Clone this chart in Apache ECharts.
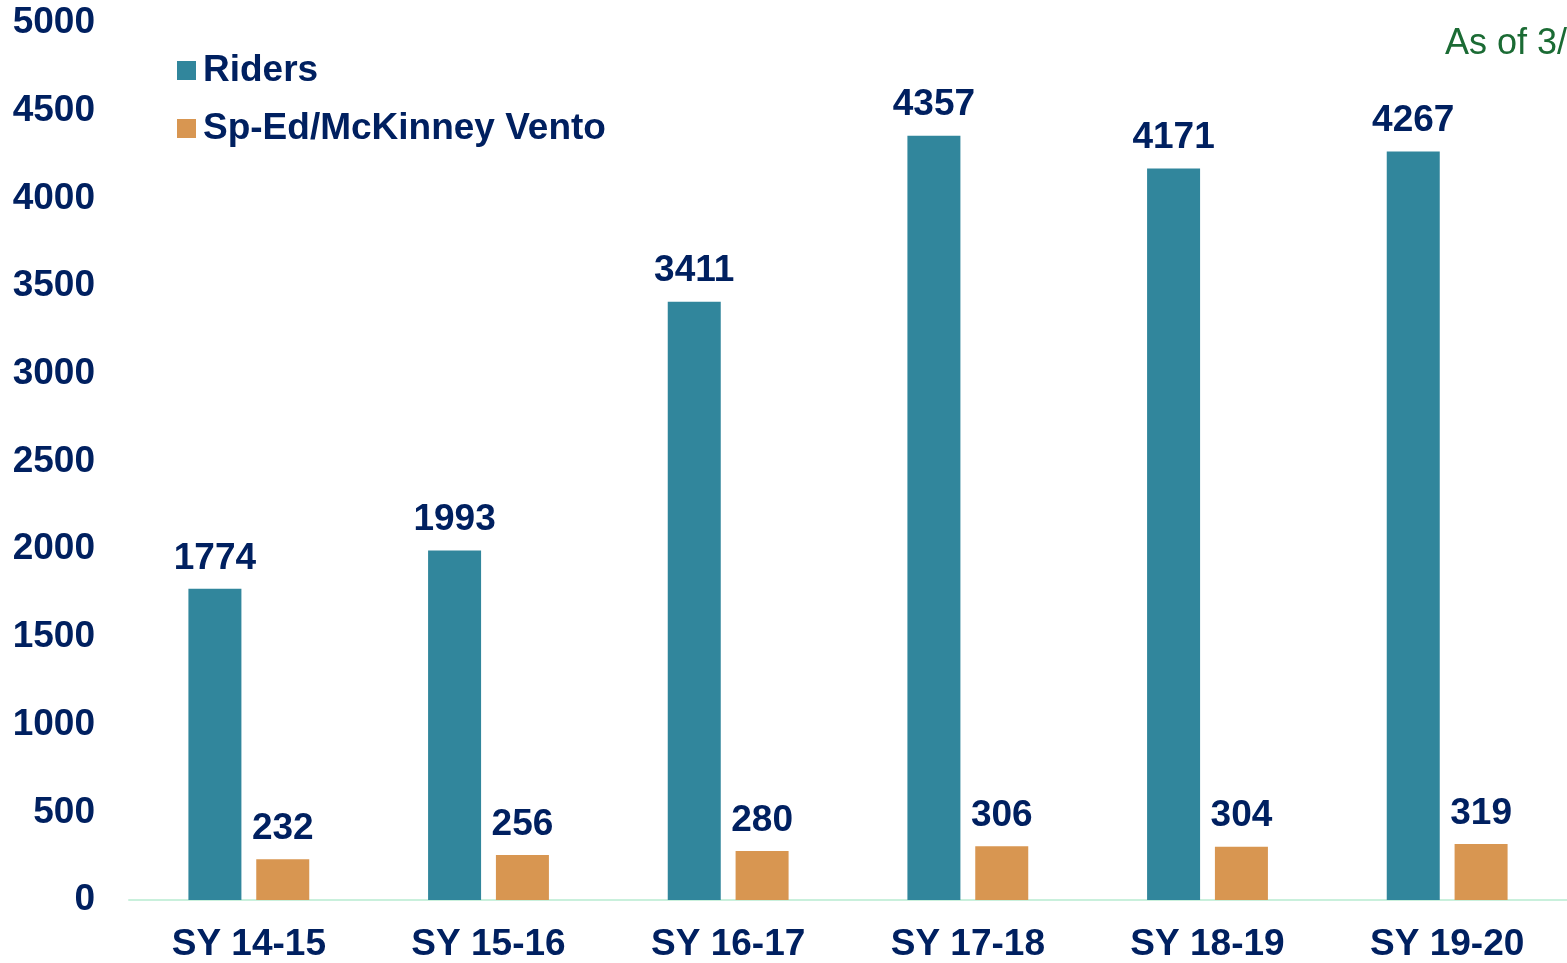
<!DOCTYPE html>
<html>
<head>
<meta charset="utf-8">
<script src="https://cdn.jsdelivr.net/npm/echarts@6/dist/echarts.min.js"></script>
<style>
  html, body { margin: 0; padding: 0; background: #fff; }
  #container { width: 1567px; height: 963px; }
</style>
</head>
<body>
<div id="container"></div>
<script>
var categories = ["SY 14-15", "SY 15-16", "SY 16-17", "SY 17-18", "SY 18-19", "SY 19-20"];
var riders = [1774, 1993, 3411, 4357, 4171, 4267];
var spEd = [232, 256, 280, 306, 304, 319];

var navy = "#002060";
var font = "Liberation Sans, Arial, sans-serif";
var big = 37;

var dom = document.getElementById("container");
var myChart = echarts.init(dom, null, { renderer: "canvas" });

var option = {
  animation: false,
  textStyle: { fontFamily: font },
  graphic: [
    {
      type: "text",
      left: 1445,
      top: 26,
      style: {
        text: "As of 3/11/2020",
        fill: "#1B6B34",
        font: "36px " + font,
      },
    },
  ],
  legend: {
    orient: "vertical",
    left: 172,
    top: 47,
    itemWidth: 19,
    itemHeight: 19,
    itemGap: 21,
    icon: "rect",
    textStyle: {
      color: navy,
      fontWeight: "bold",
      fontSize: big,
      fontFamily: font,
      padding: [0, 0, 0, 2],
    },
  },
  grid: {
    left: 129,
    right: -2,
    top: 23,
    bottom: 61,
  },
  xAxis: {
    type: "category",
    data: categories,
    axisLine: { lineStyle: { color: "#C9F0DC", width: 2 } },
    axisTick: { show: false },
    axisLabel: {
      color: navy,
      fontWeight: "bold",
      fontSize: big,
      fontFamily: font,
      margin: 26,
    },
  },
  yAxis: {
    type: "value",
    min: 0,
    max: 5000,
    interval: 500,
    splitLine: { show: false },
    axisLine: { show: false },
    axisTick: { show: false },
    axisLabel: {
      color: navy,
      fontWeight: "bold",
      fontSize: big,
      fontFamily: font,
      margin: 34,
      formatter: function (v) { return String(v); },
    },
  },
  series: [
    {
      name: "Riders",
      type: "bar",
      data: riders,
      barWidth: 53,
      barGap: "28%",
      itemStyle: { color: "#31869C" },
      label: {
        show: true,
        position: "top",
        distance: 12,
        color: navy,
        fontWeight: "bold",
        fontSize: big,
        fontFamily: font,
      },
    },
    {
      name: "Sp-Ed/McKinney Vento",
      type: "bar",
      data: spEd,
      barWidth: 53,
      itemStyle: { color: "#D89651" },
      label: {
        show: true,
        position: "top",
        distance: 12,
        color: navy,
        fontWeight: "bold",
        fontSize: big,
        fontFamily: font,
      },
    },
  ],
};

myChart.setOption(option);
window.addEventListener("resize", myChart.resize);
</script>
</body>
</html>
